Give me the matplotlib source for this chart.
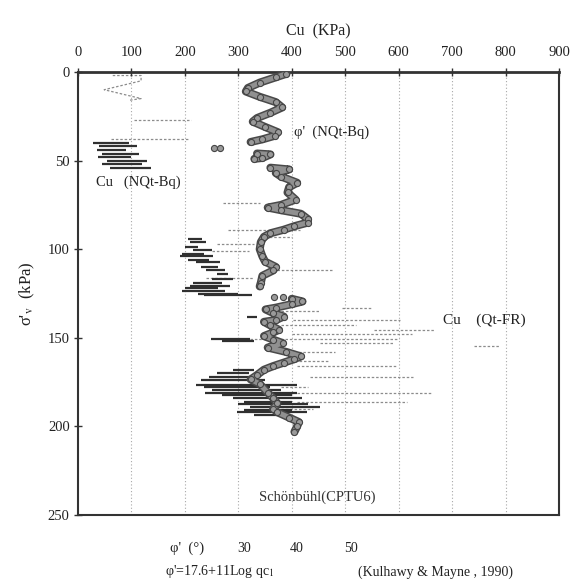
import numpy as np
import matplotlib
matplotlib.use("Agg")
import matplotlib.pyplot as plt

plt.rcParams['font.family'] = ['Liberation Serif', 'DejaVu Serif']
plt.rcParams['mathtext.fontset'] = 'stix'

nan = np.nan

# ---- axes ticks ----
cu_ticks = [0, 100, 200, 300, 400, 500, 600, 700, 800, 900]
sv_ticks = [0, 50, 100, 150, 200, 250]
phi_ticks = [30, 40, 50]

# ---- phi' (NQt-Bq) profile, degrees vs sigma'v (kPa) ----
phi_depth = [1, 3, 6, 9, 11, 14, 17, 20, 23, 26, 28, 31, 34, 36, 38, 39.5, nan,
             46, 46.5, 48.5, 49, nan,
             54, 55, 57, 59, 62.5, 65, 68, 72, 75, 76.5, 78, 80, 83, 85, 87, 89, 91, 93, 96, 100,
             104, 107, 110, 112, 115, 119, 121, nan,
             128, 129.5, 131, 133, 134, 136, 138, 140, 141, 143, 145.5, 147, 149, 151, 153, 155.5,
             158, 160.5, 162, 164, 166, 168, 171, 173.5, 176, 181, 184, 187, 190, 192,
             195, 197.5, 200, 203]
phi_deg = [39.0, 37.0, 34.0, 31.8, 31.4, 34.0, 37.0, 38.2, 36.0, 33.5, 32.7, 35.0, 37.4, 36.8, 34.5, 32.3, nan,
           33.5, 36.0, 34.5, 33.0, nan,
           36.0, 39.5, 37.0, 38.0, 41.0, 39.5, 39.2, 40.7, 38.0, 35.5, 38.0, 41.7, 43.0, 43.0, 40.5, 38.5, 36.0, 34.8, 34.2, 34.0,
           34.5, 35.0, 37.0, 36.5, 34.5, 34.2, 34.0, nan,
           40.0, 42.0, 40.0, 37.0, 35.1, 36.5, 38.5, 37.0, 34.8, 36.0, 37.6, 36.5, 34.8, 36.5, 38.3, 35.5,
           39.0, 41.7, 40.5, 38.5, 36.5, 34.8, 33.5, 32.3, 34.0, 35.5, 36.5, 37.3, 36.5, 37.3,
           39.5, 41.3, 41.0, 40.5]
phi_iso_depth = [43, 43, 127, 127]
phi_iso_deg = [25.5, 26.5, 36.6, 38.3]

# ---- Cu (NQt-Bq) spikes: depth, left end, right end (kPa) ----
nqt_depth = [40, 42, 44, 46, 48, 50, 52, 54,
             94, 96, 98.5, 100.5, 102.5, 104, 106, 107.5, 110, 112, 114, 117, 119, 120.5, 122, 123.5, 125, 126,
             138.5, 150.5, 152, 168, 170, 172, 174, 176.5, 178, 179.5, 181, 182.5, 184, 186, 187.5, 189, 190.5, 192, 193.5]
nqt_left = [28, 40, 35, 45, 38, 55, 45, 60,
            205, 210, 200, 215, 195, 191, 205, 220, 230, 240, 260, 250, 215, 210, 200, 195, 225, 235,
            316, 248, 270, 290, 260, 245, 230, 220, 235, 250, 238, 270, 290, 310, 300, 322, 310, 298, 330]
nqt_right = [95, 110, 90, 115, 100, 130, 120, 136,
             232, 240, 225, 250, 235, 253, 245, 266, 262, 275, 280, 290, 270, 285, 262, 275, 300, 326,
             335, 322, 330, 330, 320, 330, 350, 410, 360, 380, 410, 400, 420, 400, 430, 453, 400, 428, 380]

# ---- Cu (Qt-FR): top zig-zag and spikes ----
qtfr_top_depth = [2, 2, 5, 10, 15, 16]
qtfr_top_cu = [65, 118, 118, 49, 118, 95]
qtfr_depth = [27, 38, 74, 89, 93, 97, 101, 112, 116, 133, 135, 140, 143, 145.5, 148, 150.5, 153, 154.5,
              158, 163, 166, 172, 178, 181, 186, 190]
qtfr_left = [105, 62, 272, 280, 350, 260, 250, 372, 240, 494, 380, 403, 380, 553, 400, 322, 453, 740,
             380, 390, 410, 434, 380, 410, 410, 380]
qtfr_right = [211, 205, 340, 415, 400, 330, 320, 478, 330, 550, 450, 603, 520, 667, 624, 600, 590, 790,
              480, 470, 597, 627, 430, 662, 615, 440]

fig = plt.figure(figsize=(5.74, 5.82), dpi=100)
ax = fig.add_axes([0.1359, 0.1151, 0.838, 0.7612])
ax.set_xlim(0, 900)
ax.set_ylim(250, 0)

# grid
for c in cu_ticks[1:-1]:
    ax.axvline(c, color='#a8a8a8', lw=0.8, ls=(0, (1, 2)), zorder=0)

# Qt-FR light dotted
ax.plot(qtfr_top_cu, qtfr_top_depth, color='#8c8c8c', lw=0.9, ls=(0, (2, 1.5)), zorder=1)
ax.hlines(qtfr_depth, qtfr_left, qtfr_right, color='#8c8c8c', lw=0.9, linestyles=(0, (2, 1.5)), zorder=1)

# NQt-Bq dark spikes
ax.hlines(nqt_depth, nqt_left, nqt_right, color='#303030', lw=1.6, zorder=2)

# phi' band
phi_x = np.array(phi_deg) * 10.0
ax.plot(phi_x, phi_depth, color='#4a4a4a', lw=5.8, solid_capstyle='round', solid_joinstyle='round', zorder=3)
ax.plot(phi_x, phi_depth, color='#909090', lw=3.6, solid_capstyle='round', solid_joinstyle='round', zorder=4)
ax.plot(phi_x, phi_depth, ls='none', marker='o', ms=4.4, mfc='#9a9a9a', mec='#454545', mew=0.8, zorder=5)
ax.plot(np.array(phi_iso_deg) * 10.0, phi_iso_depth, ls='none', marker='o', ms=4.4,
        mfc='#9a9a9a', mec='#454545', mew=0.8, zorder=5)

# axes styling
ax.xaxis.set_ticks_position('top')
ax.xaxis.set_label_position('top')
ax.set_xticks(cu_ticks)
ax.set_yticks(sv_ticks)
ax.tick_params(axis='x', direction='inout', length=6, width=1.0, colors='#333333',
               labelsize=10.5, labelcolor='#222222', pad=6)
ax.tick_params(axis='y', direction='inout', length=6, width=1.0, colors='#333333',
               labelsize=10.5, labelcolor='#222222', pad=3)
for s in ax.spines.values():
    s.set_color('#333333')
    s.set_linewidth(1.5)
ax.spines['top'].set_linewidth(2.0)

ax.set_xlabel('Cu  (KPa)', fontsize=11.5, labelpad=8, color='#222222')
ax.set_ylabel("σ'$_{\\mathrm{v}}$  (kPa)", fontsize=12, labelpad=8, color='#222222')

# annotations
ax.text(405, 34, "φ'  (NQt-Bq)", fontsize=10.5, color='#222222', va='center')
ax.text(33, 62, "Cu   (NQt-Bq)", fontsize=10.5, color='#222222', va='center')
ax.text(683, 140, "Cu    (Qt-FR)", fontsize=11, color='#222222', va='center')
ax.text(447, 240, "Schönbühl(CPTU6)", fontsize=10.5, color='#333333', va='center', ha='center')

# bottom phi scale
trans = matplotlib.transforms.blended_transform_factory(ax.transData, fig.transFigure)
for p in phi_ticks:
    ax.text(p * 10 + 10, 1 - 548 / 582, str(p), transform=trans, fontsize=10,
            ha='center', va='center', color='#222222')
fig.text(187 / 574, 1 - 548 / 582, "φ'  (°)", fontsize=10.5, ha='center', va='center', color='#222222')
fig.text(165 / 574, 1 - 572 / 582, "φ'=17.6+11Log qc$_1$", fontsize=10, ha='left', va='center', color='#222222')
fig.text(358 / 574, 1 - 572 / 582, "(Kulhawy & Mayne , 1990)", fontsize=10, ha='left', va='center', color='#222222')

fig.savefig('out.png', dpi=100)
